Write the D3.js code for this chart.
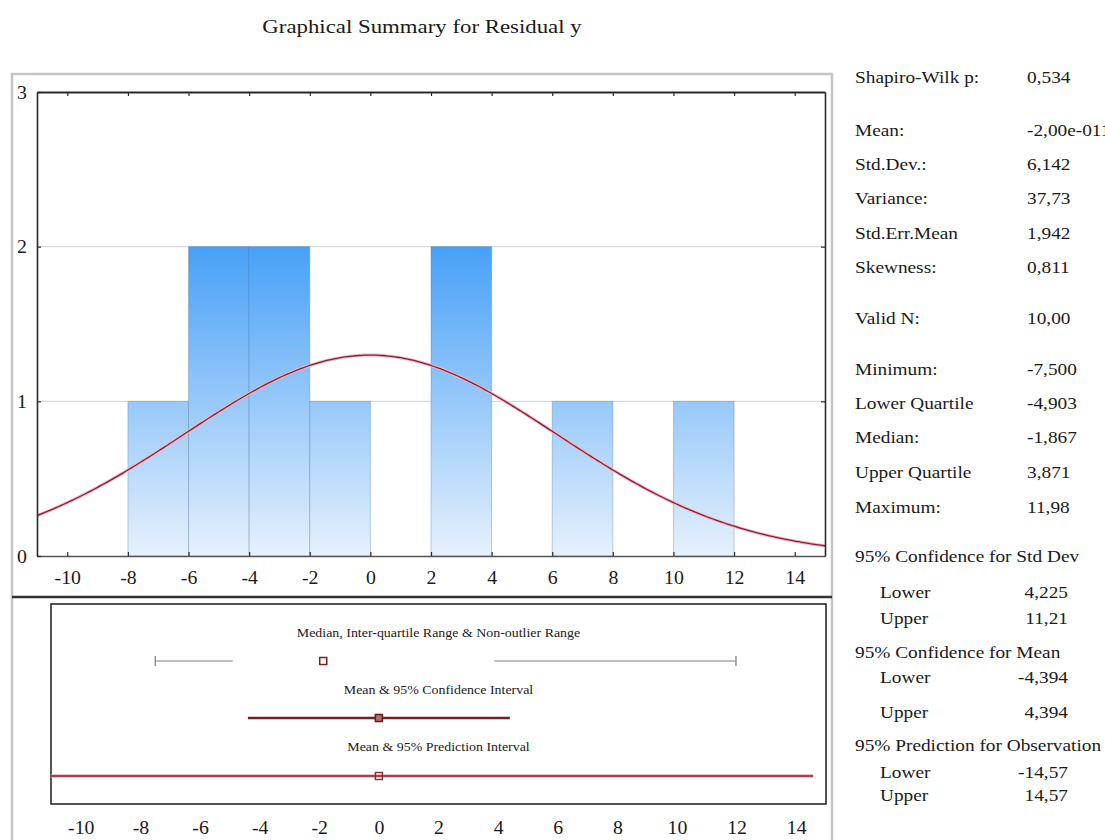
<!DOCTYPE html>
<html>
<head>
<meta charset="utf-8">
<script src="https://cdn.jsdelivr.net/npm/d3@7"></script>
<style>
  html, body { margin: 0; padding: 0; background: #fff; }
  svg { display: block; }
  text { font-family: "Liberation Serif", "DejaVu Serif", serif; fill: #1a1a1a; }
</style>
</head>
<body>
<svg id="chart" width="1105" height="840"></svg>
<script>
// ---- data ----
const title = "Graphical Summary for Residual y";

// histogram: bin lower edges (width 2) and counts
const binStarts = [-8, -6, -4, -2, 0, 2, 4, 6, 8, 10];
const binCounts = [1, 2, 2, 1, 0, 2, 0, 1, 0, 1];
const binWidth = 2;

const xTicks = [-10, -8, -6, -4, -2, 0, 2, 4, 6, 8, 10, 12, 14];
const yTicks = [0, 1, 2, 3];

// descriptive statistics
const nValid = 10;
const meanValue = -2.00e-11;
const stdDev = 6.142;
const minimum = -7.5;
const lowerQuartile = -4.903;
const median = -1.867;
const upperQuartile = 3.871;
const maximum = 11.98;
const ciMean = [-4.394, 4.394];
const piObs = [-14.57, 14.57];

const intervalTitles = [
  "Median, Inter-quartile Range & Non-outlier Range",
  "Mean & 95% Confidence Interval",
  "Mean & 95% Prediction Interval"
];

const statLabels = [
  "Shapiro-Wilk p:", "Mean:", "Std.Dev.:", "Variance:", "Std.Err.Mean", "Skewness:",
  "Valid N:", "Minimum:", "Lower Quartile", "Median:", "Upper Quartile", "Maximum:",
  "95% Confidence for Std Dev", "Lower", "Upper",
  "95% Confidence for Mean", "Lower", "Upper",
  "95% Prediction for Observation", "Lower", "Upper"
];
const statValues = [
  "0,534", "-2,00e-011", "6,142", "37,73", "1,942", "0,811",
  "10,00", "-7,500", "-4,903", "-1,867", "3,871", "11,98",
  "", "4,225", "11,21",
  "", "-4,394", "4,394",
  "", "-14,57", "14,57"
];

// ---- layout ----
const svg = d3.select("#chart");

// serif glyphs are drawn slightly widened
function widen(sel, k) {
  sel.each(function () {
    const w = this.getComputedTextLength();
    if (w > 0) d3.select(this).attr("textLength", w * k).attr("lengthAdjust", "spacingAndGlyphs");
  });
}

const plot = { left: 37, right: 825, top: 92, bottom: 556 };
const box = { left: 51, right: 826, top: 604, bottom: 804 };

const x = d3.scaleLinear().domain([-11, 15]).range([plot.left, plot.right]);
const y = d3.scaleLinear().domain([0, 3]).range([plot.bottom, plot.top]);
const xb = d3.scaleLinear().domain([-11, 15]).range([box.left, box.right]);
const fmtTick = d => String(d);

const defs = svg.append("defs");
const grad = defs.append("linearGradient")
  .attr("id", "barFill").attr("gradientUnits", "userSpaceOnUse")
  .attr("x1", 0).attr("x2", 0).attr("y1", y(2)).attr("y2", y(0));
grad.append("stop").attr("offset", "0%").attr("stop-color", "#48a0f7");
grad.append("stop").attr("offset", "100%").attr("stop-color", "#e6f1fc");

defs.append("clipPath").attr("id", "plotClip").append("rect")
  .attr("x", plot.left).attr("y", plot.top)
  .attr("width", plot.right - plot.left).attr("height", plot.bottom - plot.top);
defs.append("clipPath").attr("id", "boxClip").append("rect")
  .attr("x", box.left).attr("y", box.top)
  .attr("width", box.right - box.left).attr("height", box.bottom - box.top);

// title
const titleText = svg.append("text")
  .attr("x", 422).attr("y", 33).attr("text-anchor", "middle")
  .style("font-size", "19.5px").text(title);
widen(titleText, 1.17);

// outer light frame
svg.append("path")
  .attr("d", "M12,845 V74 H832 V845")
  .attr("fill", "none").attr("stroke", "#c4c4c4").attr("stroke-width", 2.5);

// horizontal grid
svg.append("g").selectAll("line").data([1, 2]).join("line")
  .attr("x1", plot.left).attr("x2", plot.right)
  .attr("y1", d => y(d)).attr("y2", d => y(d))
  .attr("stroke", "#d2d2d2").attr("stroke-width", 1);

// histogram bars
svg.append("g").selectAll("rect")
  .data(binStarts.map((s, i) => ({ s, c: binCounts[i] })).filter(d => d.c > 0))
  .join("rect")
  .attr("x", d => x(d.s)).attr("width", d => x(d.s + binWidth) - x(d.s))
  .attr("y", d => y(d.c)).attr("height", d => y(0) - y(d.c))
  .attr("fill", "url(#barFill)")
  .attr("stroke", "rgba(60,100,150,0.3)").attr("stroke-width", 1);

// fitted normal curve (scaled to counts)
const scaleK = nValid * binWidth / (stdDev * Math.sqrt(2 * Math.PI));
const curveX = d3.range(-11, 15.001, 0.1);
const normal = v => scaleK * Math.exp(-0.5 * Math.pow((v - meanValue) / stdDev, 2));
const line = d3.line().x(d => x(d)).y(d => y(normal(d))).curve(d3.curveBasis);
const curveG = svg.append("g").attr("clip-path", "url(#plotClip)");
curveG.append("path").attr("d", line(curveX)).attr("fill", "none")
  .attr("stroke", "#f0b8c4").attr("stroke-width", 3.2);
curveG.append("path").attr("d", line(curveX)).attr("fill", "none")
  .attr("stroke", "#8c1c34").attr("stroke-width", 1.3);

// axes
const axB = svg.append("g").attr("transform", `translate(0,${plot.bottom})`)
  .call(d3.axisBottom(x).tickValues(xTicks).tickSizeInner(-4).tickSizeOuter(0).tickPadding(15).tickFormat(fmtTick));
const axT = svg.append("g").attr("transform", `translate(0,${plot.top})`)
  .call(d3.axisTop(x).tickValues(xTicks).tickSizeInner(-4).tickSizeOuter(0).tickFormat(""));
const axL = svg.append("g").attr("transform", `translate(${plot.left},0)`)
  .call(d3.axisLeft(y).tickValues(yTicks).tickSizeInner(-4).tickSizeOuter(0).tickPadding(10).tickFormat(fmtTick));
const axR = svg.append("g").attr("transform", `translate(${plot.right},0)`)
  .call(d3.axisRight(y).tickValues([1, 2]).tickSizeInner(-4).tickSizeOuter(0).tickFormat(""));

[axB, axT, axL, axR].forEach(a => {
  a.select(".domain").attr("stroke", "#2a2a2a").attr("stroke-width", 1.6);
  a.selectAll(".tick line").attr("stroke", "#2a2a2a").attr("stroke-width", 1.2);
  a.selectAll("text").style("font-size", "18px")
    .attr("font-family", null).attr("fill", "#1a1a1a");
});
axT.select(".domain").attr("stroke-width", 2.2);
axB.select(".domain").attr("stroke", "#555");
axL.selectAll(".tick text").attr("dy", "0.35em");
widen(axB.selectAll("text"), 1.1);
widen(axL.selectAll("text"), 1.1);

// separator between panels
svg.append("line").attr("x1", 12).attr("x2", 832).attr("y1", 597).attr("y2", 597)
  .attr("stroke", "#333").attr("stroke-width", 2.4);

// interval panel
svg.append("rect").attr("x", box.left).attr("y", box.top)
  .attr("width", box.right - box.left).attr("height", box.bottom - box.top)
  .attr("fill", "none").attr("stroke", "#2a2a2a").attr("stroke-width", 1.6);

const rowTitleY = [633, 690, 747];
const rowY = [661, 718, 776];
const rowTitles = svg.append("g").selectAll("text").data(intervalTitles).join("text")
  .attr("x", (box.left + box.right) / 2).attr("y", (d, i) => rowTitleY[i])
  .attr("text-anchor", "middle").attr("dominant-baseline", "central")
  .style("font-size", "12px").attr("fill", "#333").text(d => d);
widen(rowTitles, 1.16);

const ig = svg.append("g").attr("clip-path", "url(#boxClip)");

// row 1: non-outlier whiskers and median
const whiskers = [[minimum, lowerQuartile], [upperQuartile, maximum]];
ig.selectAll("line.wh").data(whiskers).join("line").attr("class", "wh")
  .attr("x1", d => xb(d[0])).attr("x2", d => xb(d[1]))
  .attr("y1", rowY[0]).attr("y2", rowY[0])
  .attr("stroke", "#aaaaaa").attr("stroke-width", 1.6);
ig.selectAll("line.cap").data([minimum, maximum]).join("line").attr("class", "cap")
  .attr("x1", d => xb(d)).attr("x2", d => xb(d))
  .attr("y1", rowY[0] - 5).attr("y2", rowY[0] + 5)
  .attr("stroke", "#888").attr("stroke-width", 1.4);
ig.append("rect").attr("x", xb(median) - 3.5).attr("y", rowY[0] - 3.5)
  .attr("width", 7).attr("height", 7)
  .attr("fill", "#fff").attr("stroke", "#7a2020").attr("stroke-width", 1.5);

// row 2: confidence interval for the mean
ig.append("line").attr("x1", xb(ciMean[0])).attr("x2", xb(ciMean[1]))
  .attr("y1", rowY[1]).attr("y2", rowY[1])
  .attr("stroke", "#7a1c24").attr("stroke-width", 2.4);
ig.append("rect").attr("x", xb(meanValue) - 3.5).attr("y", rowY[1] - 3.5)
  .attr("width", 7).attr("height", 7)
  .attr("fill", "#b07070").attr("stroke", "#6a1818").attr("stroke-width", 1.5);

// row 3: prediction interval
ig.append("line").attr("x1", xb(piObs[0])).attr("x2", xb(piObs[1]))
  .attr("y1", rowY[2]).attr("y2", rowY[2])
  .attr("stroke", "#e8b0b8").attr("stroke-width", 3.4);
ig.append("line").attr("x1", xb(piObs[0])).attr("x2", xb(piObs[1]))
  .attr("y1", rowY[2]).attr("y2", rowY[2])
  .attr("stroke", "#8a1e2c").attr("stroke-width", 1.4);
ig.append("rect").attr("x", xb(meanValue) - 3.5).attr("y", rowY[2] - 3.5)
  .attr("width", 7).attr("height", 7)
  .attr("fill", "none").attr("stroke", "#8a2a30").attr("stroke-width", 1.4);

// interval axis labels
const axI = svg.append("g").attr("transform", `translate(0,${box.bottom})`)
  .call(d3.axisBottom(xb).tickValues(xTicks).tickSize(0).tickPadding(17).tickFormat(fmtTick));
axI.select(".domain").remove();
axI.selectAll("text").style("font-size", "18px")
  .attr("font-family", null).attr("fill", "#1a1a1a");
widen(axI.selectAll("text"), 1.1);

// statistics table
const statY = [77, 130, 164, 198, 233, 267, 318, 369, 403, 437, 472, 507,
               556, 592, 618, 652, 677, 712, 745, 772, 795];
const isSub = i => (statLabels[i] === "Lower" || statLabels[i] === "Upper") && i >= 12;
const sg = svg.append("g");
statLabels.forEach((lab, i) => {
  sg.append("text").attr("class", "stat")
    .attr("x", isSub(i) ? 880 : 855).attr("y", statY[i])
    .attr("dominant-baseline", "central").style("font-size", "16.5px").text(lab);
  if (statValues[i] !== "") {
    const sub = i >= 12;
    sg.append("text").attr("class", "stat")
      .attr("x", sub ? 1068 : 1027).attr("y", statY[i])
      .attr("text-anchor", sub ? "end" : "start")
      .attr("dominant-baseline", "central").style("font-size", "16.5px").text(statValues[i]);
  }
});
widen(sg.selectAll("text.stat"), 1.17);
</script>
</body>
</html>
